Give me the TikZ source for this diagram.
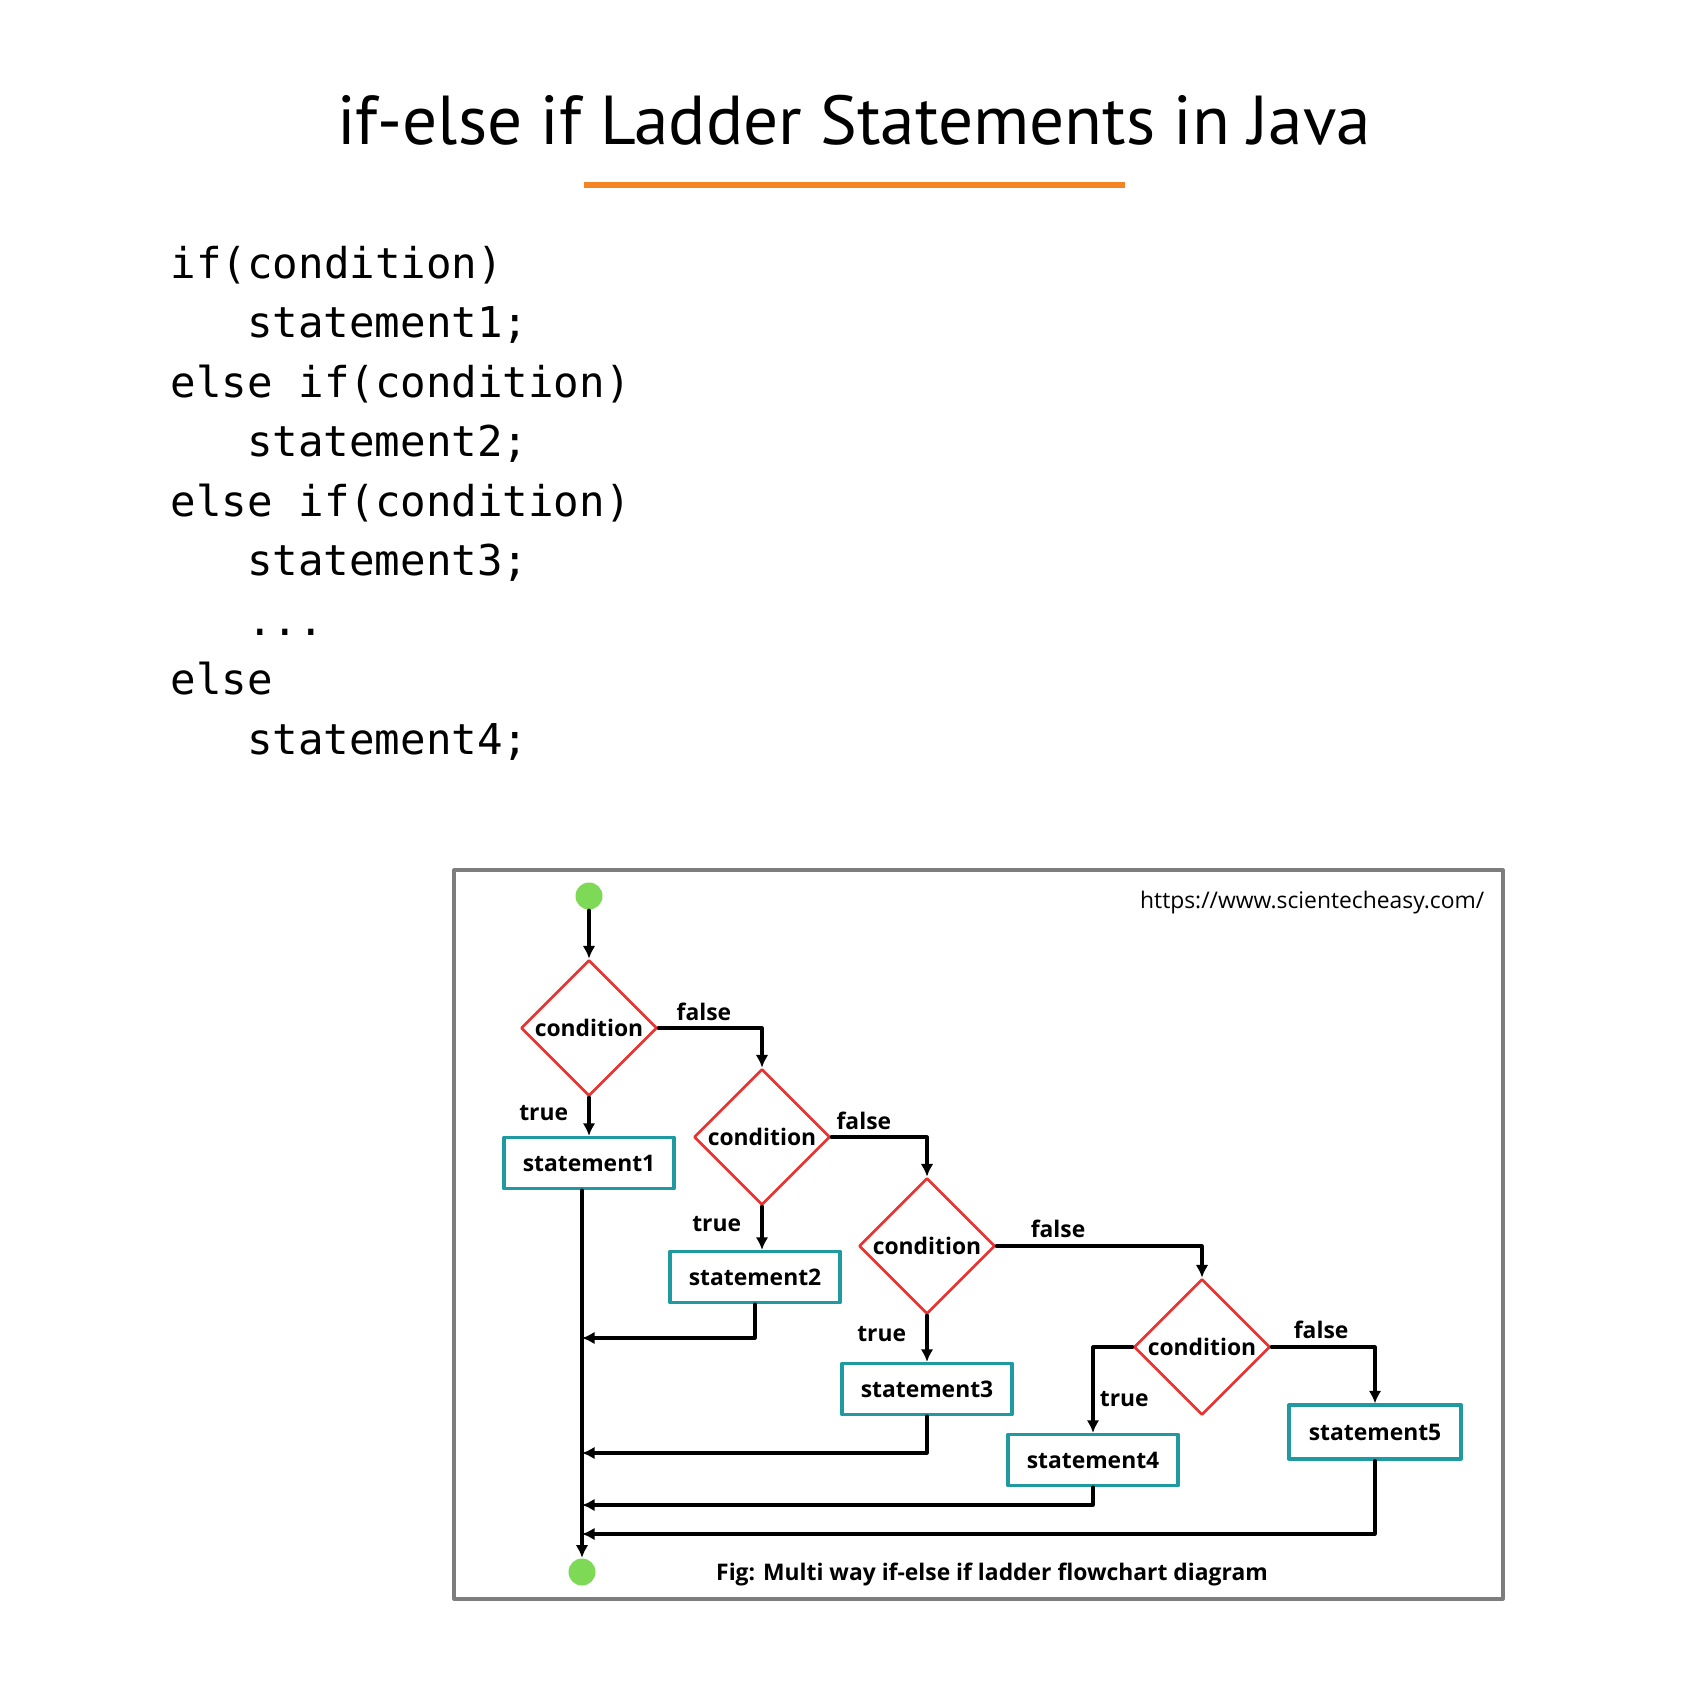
\documentclass[tikz,border=0pt]{standalone}
\usepackage{fontspec}
\setmainfont{PT Sans}
\setmonofont{DejaVu Sans Mono}
\newfontfamily\flowfont{Open Sans}
\usetikzlibrary{shapes.geometric,arrows.meta}
\definecolor{rulered}{RGB}{244,132,34}
\definecolor{condred}{RGB}{236,50,48}
\definecolor{boxteal}{RGB}{30,154,160}
\definecolor{dotgreen}{RGB}{126,217,87}
\definecolor{framegray}{RGB}{125,125,125}
\newcommand\codedots{...}
\tikzset{
  decision/.style={diamond,draw=condred,line width=0.75pt,minimum width=1.36cm,
    minimum height=1.36cm,inner sep=0pt,font=\flowfont\bfseries\fontsize{6.5}{7}\selectfont},
  stmtbox/.style={rectangle,draw=boxteal,line width=0.9pt,minimum width=1.70cm,
    minimum height=0.51cm,inner sep=0pt,font=\flowfont\bfseries\fontsize{6.5}{7}\selectfont},
  terminal/.style={circle,fill=dotgreen,minimum size=0.27cm,inner sep=0pt},
  flow/.style={line width=0.9pt,->},
  lbl/.style={font=\flowfont\bfseries\fontsize{6.5}{7}\selectfont,inner sep=1.5pt}
}
\begin{document}
\begin{tikzpicture}[x=0.01cm,y=-0.01cm,line cap=round,line join=round,>={Latex[length=3.6pt,width=3.6pt]}]
  \useasboundingbox[fill=white] (0,0) rectangle (1688,1688);
  % heading
  \node[anchor=base,inner sep=0pt,font=\fontsize{19.7}{23}\selectfont] (title) at (854,145) {if-else if Ladder Statements in Java};
  \draw[rulered,line width=1.7pt,line cap=butt] (584,185) -- (1125,185);
  % syntax
  \foreach \ind/\txt [count=\i] in {0/if(condition), 1/statement1;, 0/else if(condition), 1/statement2;,
      0/else if(condition), 1/statement3;, 1/\codedots, 0/else, 1/statement4;}
    \node[anchor=base west,inner sep=0pt,font=\ttfamily\fontsize{12.07}{14}\selectfont]
      (code\i) at ({170+76.5*\ind},{278+59.5*(\i-1)}) {\txt};
  % flowchart frame
  \draw[framegray,line width=0.9pt] (454,870) rectangle (1503,1599);
  \node[anchor=base east,inner sep=0pt,font=\flowfont\fontsize{6.5}{7}\selectfont] (url) at (1485,908) {https://www.scientecheasy.com/};
  \node[anchor=base,inner sep=0pt,font=\flowfont\bfseries\fontsize{6.5}{7}\selectfont] (caption) at (992,1580) {Fig: Multi way if-else if ladder flowchart diagram};
  % nodes
  \node[terminal] (start) at (589,896) {};
  \node[decision] (d1) at (589,1028) {condition};
  \node[decision] (d2) at (762,1137) {condition};
  \node[decision] (d3) at (927,1246) {condition};
  \node[decision] (d4) at (1202,1347) {condition};
  \node[stmtbox] (s1) at (589,1163) {statement1};
  \node[stmtbox] (s2) at (755,1277) {statement2};
  \node[stmtbox] (s3) at (927,1389) {statement3};
  \node[stmtbox] (s4) at (1093,1460) {statement4};
  \node[stmtbox,minimum width=1.72cm,minimum height=0.54cm] (s5) at (1375,1432) {statement5};
  \node[terminal] (stop) at (582,1572) {};
  \coordinate (m2) at (582,1338);
  \coordinate (m3) at (582,1453);
  \coordinate (m4) at (582,1505);
  \coordinate (m5) at (582,1534);
  % connectors
  \draw[flow] (start) -- (d1.north);
  \draw[flow] (d1.south) -- node[lbl,left=4pt,pos=0.4] {true} (d1.south |- s1.north);
  \draw[flow] (d1.east) -| node[lbl,above,pos=0.22] {false} (d2.north);
  \draw[flow] (d2.south) -- node[lbl,left=4pt,pos=0.4] {true} (d2.south |- s2.north);
  \draw[flow] (d2.east) -| node[lbl,above,pos=0.17] {false} (d3.north);
  \draw[flow] (d3.south) -- node[lbl,left=4pt,pos=0.4] {true} (d3.south |- s3.north);
  \draw[flow] (d3.east) -| node[lbl,above=0.5pt,pos=0.15] {false} (d4.north);
  \draw[flow] (d4.west) -| node[lbl,right,pos=0.8] {true} (s4.north);
  \draw[flow] (d4.east) -| node[lbl,above=0.5pt,pos=0.24] {false} (s5.north);
  \draw[flow] (s1.south -| stop) -- (stop.north);
  \draw[flow] (s2.south) |- (m2);
  \draw[flow] (s3.south) |- (m3);
  \draw[flow] (s4.south) |- (m4);
  \draw[flow] (s5.south) |- (m5);
\end{tikzpicture}
\end{document}
